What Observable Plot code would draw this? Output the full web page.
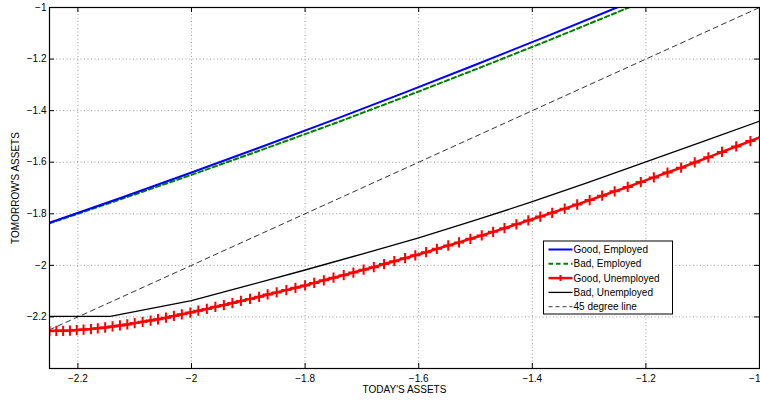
<!DOCTYPE html>
<html>
<head>
<meta charset="utf-8">
<script src="https://cdn.jsdelivr.net/npm/d3@7"></script>
<script src="https://cdn.jsdelivr.net/npm/@observablehq/plot@0.6"></script>
<style>
  body { margin: 0; background: #fff; }
  #chart svg { display: block; }
</style>
</head>
<body>
<div id="chart"></div>
<script>
// Asset grid used by the policy with markers (denser near the borrowing limit)
const gridAssets = [
  -2.250, -2.238, -2.226, -2.214, -2.202, -2.190, -2.177, -2.165, -2.152, -2.139,
  -2.126, -2.113, -2.100, -2.086, -2.072, -2.059, -2.045, -2.031, -2.017, -2.002,
  -1.988, -1.973, -1.958, -1.943, -1.928, -1.913, -1.897, -1.881, -1.866, -1.850,
  -1.833, -1.817, -1.800, -1.784, -1.767, -1.750, -1.732, -1.715, -1.697, -1.679,
  -1.661, -1.643, -1.624, -1.606, -1.587, -1.568, -1.548, -1.529, -1.509, -1.489,
  -1.469, -1.449, -1.428, -1.407, -1.386, -1.365, -1.343, -1.321, -1.299, -1.277,
  -1.255, -1.232, -1.209, -1.186, -1.162, -1.138, -1.114, -1.090, -1.066, -1.041,
  -1.016, -0.990
];
// Tomorrow's assets, good state, unemployed
const goodUnemployed = [
  -2.255, -2.254, -2.254, -2.253, -2.251, -2.249, -2.247, -2.244, -2.241, -2.237,
  -2.233, -2.229, -2.224, -2.219, -2.214, -2.209, -2.203, -2.196, -2.190, -2.183,
  -2.176, -2.169, -2.161, -2.154, -2.146, -2.138, -2.130, -2.122, -2.113, -2.105,
  -2.096, -2.087, -2.078, -2.068, -2.058, -2.048, -2.038, -2.028, -2.017, -2.007,
  -1.995, -1.984, -1.972, -1.961, -1.949, -1.936, -1.923, -1.911, -1.897, -1.884,
  -1.870, -1.856, -1.841, -1.826, -1.811, -1.796, -1.780, -1.764, -1.747, -1.730,
  -1.713, -1.696, -1.677, -1.659, -1.640, -1.621, -1.601, -1.581, -1.560, -1.539,
  -1.518, -1.495
];

// Employed policies
const employedAssets = [-2.25, -2.125, -2.0, -1.875, -1.75, -1.625, -1.5, -1.375, -1.25, -1.125];
const goodEmployed   = [-1.835, -1.739, -1.640, -1.539, -1.436, -1.330, -1.222, -1.112, -0.999, -0.884];
const badEmployed    = [-1.837, -1.744, -1.649, -1.551, -1.451, -1.347, -1.240, -1.131, -1.018, -0.903];

// Bad state, unemployed policy
const badUnempAssets = [-2.25, -2.143, -2.0, -1.9, -1.8, -1.7, -1.6, -1.5, -1.4, -1.3, -1.2, -1.1, -1.0];
const badUnemployed  = [-2.198, -2.198, -2.137, -2.078, -2.018, -1.956, -1.893, -1.825, -1.753, -1.677, -1.599, -1.520, -1.441];

// 45 degree reference line
const diagonal = [-2.25, -1.0];

const xTicks = [-2.2, -2.0, -1.8, -1.6, -1.4, -1.2, -1.0];
const yTicks = [-2.2, -2.0, -1.8, -1.6, -1.4, -1.2, -1.0];

const legendNames = ["Good, Employed", "Bad, Employed", "Good, Unemployed", "Bad, Unemployed", "45 degree line"];

// Layout
const W = 760, H = 400;
const mL = 49, mR = 1, mT = 7, mB = 32;
const innerW = W - mL - mR, innerH = H - mT - mB;
const tickLen = 5;
const fmt = d3.format(",");
const font = "'Liberation Sans', Arial, Helvetica, sans-serif";

const zip = (xs, ys) => xs.map((x, i) => ({x, y: ys[i]}));
const redRows = zip(gridAssets, goodUnemployed);
const blueRows = zip(employedAssets, goodEmployed);
const greenRows = zip(employedAssets, badEmployed);
const blackRows = zip(badUnempAssets, badUnemployed);
const diagRows = diagonal.map(v => ({x: v, y: v}));

const gridStyle = {stroke: "#9a9a9a", strokeOpacity: 1, strokeWidth: 1, strokeDasharray: "1,2.5"};
const lastX = xTicks[xTicks.length - 1];

const chart = Plot.plot({
  width: W,
  height: H,
  marginLeft: mL,
  marginRight: mR,
  marginTop: mT,
  marginBottom: mB,
  style: {fontFamily: font, fontSize: "10px", background: "#fff", color: "#000"},
  x: {domain: [-2.25, -1], axis: null},
  y: {domain: [-2.4, -1], axis: null},
  marks: [
    // dotted grid
    Plot.ruleX(xTicks, {x: d => d, ...gridStyle}),
    Plot.ruleY(yTicks, {y: d => d, ...gridStyle}),
    // policies
    Plot.line(diagRows, {x: "x", y: "y", stroke: "#000", strokeWidth: 0.8, strokeDasharray: "5,4", clip: true}),
    Plot.line(blackRows, {x: "x", y: "y", stroke: "#000", strokeWidth: 1.3, clip: true}),
    Plot.line(redRows, {x: "x", y: "y", stroke: "#ff0000", strokeWidth: 2.5, clip: true}),
    Plot.dot(redRows, {x: "x", y: "y", symbol: "plus", r: 3.4, stroke: "#ff0000", strokeWidth: 2, clip: true}),
    Plot.line(greenRows, {x: "x", y: "y", stroke: "#008000", strokeWidth: 2, strokeDasharray: "4.5,3", clip: true}),
    Plot.line(blueRows, {x: "x", y: "y", stroke: "#0000ff", strokeWidth: 2, clip: true}),
    // box
    Plot.frame({stroke: "#000", strokeWidth: 1.2}),
    // inward ticks on all four sides
    Plot.tickX(xTicks, {x: d => d, insetTop: innerH - tickLen, stroke: "#000"}),
    Plot.tickX(xTicks, {x: d => d, insetBottom: innerH - tickLen, stroke: "#000"}),
    Plot.tickY(yTicks, {y: d => d, insetRight: innerW - tickLen, stroke: "#000"}),
    Plot.tickY(yTicks, {y: d => d, insetLeft: innerW - tickLen, stroke: "#000"}),
    // tick labels (the right-most one is kept inside the page edge)
    Plot.text(xTicks.filter(d => d !== lastX), {x: d => d, text: d => fmt(d), frameAnchor: "bottom", lineAnchor: "top", dy: 6, fontSize: 10, fill: "#000"}),
    Plot.text([lastX], {x: d => d, text: d => fmt(d), frameAnchor: "bottom", lineAnchor: "top", textAnchor: "end", dx: 1, dy: 6, fontSize: 10, fill: "#000"}),
    Plot.text(yTicks, {y: d => d, text: d => fmt(d), frameAnchor: "left", textAnchor: "end", dx: -3, fontSize: 10, fill: "#000"}),
    // axis titles
    Plot.text(["TODAY'S ASSETS"], {text: d => d, frameAnchor: "bottom", lineAnchor: "top", textAnchor: "middle", dy: 17, fontSize: 10, fill: "#000"}),
    Plot.text(["TOMORROW'S ASSETS"], {text: d => d, frameAnchor: "left", textAnchor: "middle", rotate: -90, dx: -34, fontSize: 10, fill: "#000"})
  ]
});

// Legend box drawn inside the plot area
const legendStyles = [
  {stroke: "#0000ff", width: 2, dash: null, marker: false},
  {stroke: "#008000", width: 2, dash: "4.5,3", marker: false},
  {stroke: "#ff0000", width: 2.5, dash: null, marker: true},
  {stroke: "#000", width: 1.3, dash: null, marker: false},
  {stroke: "#000", width: 0.8, dash: "4,3", marker: false}
];
const svg = d3.select(chart);
const lg = svg.append("g").attr("transform", "translate(543.5,241)")
  .style("font-family", font).style("font-size", "10px");
lg.append("rect").attr("width", 129).attr("height", 73)
  .attr("fill", "#fff").attr("stroke", "#000").attr("stroke-width", 1);
legendNames.forEach((name, i) => {
  const s = legendStyles[i];
  const y = 8.5 + i * 14.3;
  const line = lg.append("line").attr("x1", 5).attr("x2", 29).attr("y1", y).attr("y2", y)
    .attr("stroke", s.stroke).attr("stroke-width", s.width);
  if (s.dash) line.attr("stroke-dasharray", s.dash);
  if (s.marker) {
    lg.append("path").attr("d", `M14,${y}h6M17,${y - 3}v6`)
      .attr("stroke", s.stroke).attr("stroke-width", 2).attr("fill", "none");
  }
  lg.append("text").attr("x", 30).attr("y", y).attr("dy", "0.35em")
    .attr("text-anchor", "start").attr("fill", "#000").text(name);
});

document.getElementById("chart").append(chart);
</script>
</body>
</html>
